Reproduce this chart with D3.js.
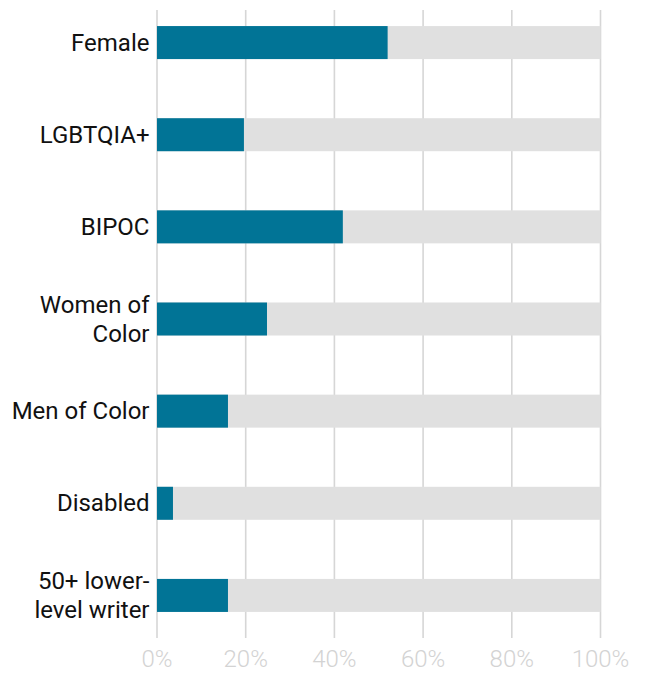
<!DOCTYPE html>
<html>
<head>
<meta charset="utf-8">
<script src="https://cdn.jsdelivr.net/npm/d3@7"></script>
<style>
  html, body { margin: 0; padding: 0; background: #fff; }
  svg { display: block; font-family: Roboto, "Noto Sans", sans-serif; }
</style>
</head>
<body>
<svg id="chart" width="647" height="673"></svg>
<script>
// Share of each group (percent)
const categories = [
  ["Female"],
  ["LGBTQIA+"],
  ["BIPOC"],
  ["Women of", "Color"],
  ["Men of Color"],
  ["Disabled"],
  ["50+ lower-", "level writer"]
];
const values = [52, 19.6, 41.9, 24.8, 16, 3.6, 16];
const tickValues = [0, 20, 40, 60, 80, 100];
const tickLabels = ["0%", "20%", "40%", "60%", "80%", "100%"];

const svg = d3.select("#chart");
const keys = categories.map(c => c.join(" "));

const x = d3.scaleLinear().domain([0, 100]).range([157, 600.5]);
const y = d3.scaleBand().domain(keys).range([26 - 29.5, 612 + 29.5]).paddingInner(0.64).paddingOuter(0.32);
// keep bar thickness fixed regardless of padding maths
const barH = 33;
const barY = k => y(k) + y.bandwidth() / 2 - barH / 2;

// vertical grid
svg.append("g").selectAll("line").data(tickValues).join("line")
  .attr("x1", d => x(d)).attr("x2", d => x(d))
  .attr("y1", 10).attr("y2", 638)
  .attr("stroke", "#d6d6d6").attr("stroke-width", 1.6);

// background (100%) bars
svg.append("g").selectAll("rect").data(keys).join("rect")
  .attr("x", x(0)).attr("y", d => barY(d))
  .attr("width", x(100) - x(0)).attr("height", barH)
  .attr("fill", "#e0e0e0");

// value bars
svg.append("g").selectAll("rect").data(values).join("rect")
  .attr("x", x(0)).attr("y", (d, i) => barY(keys[i]))
  .attr("width", d => x(d) - x(0)).attr("height", barH)
  .attr("fill", "#017496");

// category labels
const lineH = 29;
const lab = svg.append("g").selectAll("text").data(categories).join("text")
  .attr("text-anchor", "end")
  .attr("font-size", 24)
  .attr("fill", "#111");
lab.each(function(lines, i) {
  const cy = y(keys[i]) + y.bandwidth() / 2;
  const first = cy + 8 - (lines.length - 1) * lineH / 2;
  d3.select(this).selectAll("tspan").data(lines).join("tspan")
    .attr("x", 149.5)
    .attr("y", (d, j) => first + j * lineH)
    .text(d => d);
});

// x tick labels
svg.append("g").selectAll("text").data(tickValues).join("text")
  .attr("x", d => x(d)).attr("y", 667)
  .attr("text-anchor", "middle")
  .attr("font-size", 24).attr("font-weight", 300)
  .attr("fill", "#d3d3d3")
  .text((d, i) => tickLabels[i]);
</script>
</body>
</html>
